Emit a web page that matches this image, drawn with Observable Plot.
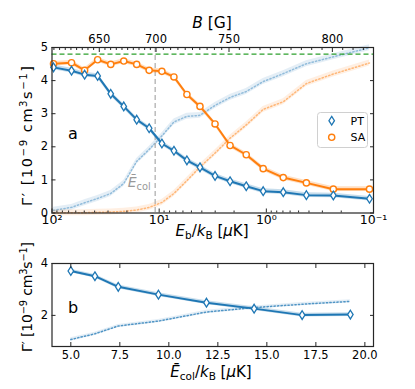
<!DOCTYPE html>
<html><head><meta charset="utf-8">
<script src="https://cdn.jsdelivr.net/npm/d3@7"></script>
<script src="https://cdn.jsdelivr.net/npm/@observablehq/plot@0.6"></script>
<style>
body{margin:0;background:#fff;}
#wrap{position:relative;width:415px;height:389px;font-family:"DejaVu Sans",sans-serif;}
#wrap svg{position:absolute;left:0;overflow:visible;}
</style></head><body><div id="wrap"></div>
<script>
// ---------- data: panel a ----------
const Eb = [96.8, 65.7, 49.6, 37.5, 28.3, 21.4, 16.2, 12.4, 9.43, 7.28, 5.51, 4.16, 3.01, 2.18, 1.54, 1.07, 0.695, 0.423, 0.237, 0.109];
const ptGamma = [4.40, 4.30, 4.18, 4.14, 3.60, 3.22, 2.82, 2.56, 2.10, 1.88, 1.59, 1.38, 1.12, 0.96, 0.81, 0.66, 0.63, 0.54, 0.53, 0.43];
const saGamma = [4.51, 4.54, 4.31, 4.63, 4.49, 4.59, 4.49, 4.31, 4.28, 4.11, 3.58, 3.22, 2.69, 2.04, 1.76, 1.34, 1.07, 0.91, 0.72, 0.72];
const ptUnitary = [0.08, 0.17, 0.31, 0.44, 0.59, 0.89, 1.56, 1.92, 2.33, 2.75, 2.92, 2.95, 3.25, 3.49, 3.67, 3.97, 4.21, 4.51, 4.72, 4.99];
const saUnitary = [0.00, 0.01, 0.01, 0.02, 0.03, 0.05, 0.09, 0.17, 0.32, 0.59, 0.98, 1.39, 1.81, 2.26, 2.66, 3.13, 3.36, 3.91, 4.20, 4.53];
const gammaLimit = 4.8;
const EcolMean = 10.9;
const xMajorA = [100, 10, 1, 0.1];
const yTicksA = [0, 1, 2, 3, 4, 5];
const Bticks = [650, 700, 750, 800];
const EbAtB = [36.2, 10.7, 2.23, 0.242];
// ---------- data: panel b ----------
const Ecol = [5.0, 6.23, 7.42, 9.47, 11.92, 14.35, 16.80, 19.26];
const ptGammaB = [3.71, 3.51, 3.10, 2.80, 2.49, 2.26, 2.01, 2.03];
const ptUnitaryB = [1.07, 1.29, 1.59, 1.78, 2.13, 2.30, 2.43, 2.54];
const xTicksB = [5, 7.5, 10, 12.5, 15, 17.5, 20];
const yTicksB = [2, 4];
const bandSolid = 0.07, bandDot = 0.09;

const BLUE = "#1f77b4", ORANGE = "#ff7f0e", GREEN = "#2ca02c", AX = "#262626";
const supMap = {"-":"⁻","0":"⁰","1":"¹","2":"²","3":"³","4":"⁴","5":"⁵","6":"⁶","7":"⁷","8":"⁸","9":"⁹"};
const logFmt = d => "10" + String(Math.round(Math.log10(d))).split("").map(c => supMap[c]).join("");

// B <-> Eb mapping from the top-axis ticks
const BtoLogE = d3.scaleLinear().domain(Bticks).range(EbAtB.map(Math.log10));
const BtoE = b => Math.pow(10, BtoLogE(b));
const bMinor = d3.range(600, 830, 5).filter(b => !Bticks.includes(b)).map(BtoE).filter(e => e <= 100 && e >= 0.1);
const bRows = Bticks.map((b, i) => ({B: b, E: EbAtB[i]}));
const xMinorA = [];
for (const dec of [10, 1, 0.1]) for (let k = 2; k <= 9; k++) xMinorA.push(k * dec);

const thinDiamond = {draw(ctx, size) {
  const r = Math.sqrt(size / Math.PI), h = r * 1.45, w = r * 0.92;
  ctx.moveTo(0, -h); ctx.lineTo(w, 0); ctx.lineTo(0, h); ctx.lineTo(-w, 0); ctx.closePath();
}};

const rowsA = Eb.map((e, i) => ({Eb: e, pt: ptGamma[i], sa: saGamma[i], ptU: ptUnitary[i], saU: saUnitary[i]}));
const rowsB = Ecol.map((e, i) => ({E: e, pt: ptGammaB[i], ptU: ptUnitaryB[i]}));

const style = {fontFamily: "DejaVu Sans", fontSize: "11.5px", background: "transparent", color: "#000", overflow: "visible"};

const tickMarks = (axis, vals, anchor, size) => axis(vals, {anchor, tickSize: -size, fill: "none", stroke: AX, strokeWidth: 1, label: null});

const plotA = Plot.plot({
  width: 415, height: 260,
  marginLeft: 51.5, marginRight: 42, marginTop: 47, marginBottom: 47.5,
  style,
  x: {type: "log", domain: [100, 0.1]},
  y: {domain: [0, 5]},
  marks: [
    Plot.areaY(rowsA, {x: "Eb", y1: d => d.ptU - bandDot, y2: d => d.ptU + bandDot, fill: BLUE, fillOpacity: 0.12}),
    Plot.lineY(rowsA, {x: "Eb", y: "ptU", stroke: BLUE, strokeOpacity: 0.42, strokeWidth: 1.5, strokeDasharray: "1.3,2.2"}),
    Plot.areaY(rowsA, {x: "Eb", y1: d => d.saU - bandDot, y2: d => d.saU + bandDot, fill: ORANGE, fillOpacity: 0.12}),
    Plot.lineY(rowsA, {x: "Eb", y: "saU", stroke: ORANGE, strokeOpacity: 0.5, strokeWidth: 1.5, strokeDasharray: "1.3,2.2"}),
    Plot.ruleY([gammaLimit], {stroke: GREEN, strokeWidth: 1.3, strokeDasharray: "5,3"}),
    Plot.ruleX([EcolMean], {stroke: "#aaaaaa", strokeWidth: 1.2, strokeDasharray: "5,3"}),
    Plot.areaY(rowsA, {x: "Eb", y1: d => d.sa - bandSolid, y2: d => d.sa + bandSolid, fill: ORANGE, fillOpacity: 0.25}),
    Plot.lineY(rowsA, {x: "Eb", y: "sa", stroke: ORANGE, strokeWidth: 2}),
    Plot.areaY(rowsA, {x: "Eb", y1: d => d.pt - bandSolid, y2: d => d.pt + bandSolid, fill: BLUE, fillOpacity: 0.25}),
    Plot.lineY(rowsA, {x: "Eb", y: "pt", stroke: BLUE, strokeWidth: 2}),
    Plot.dot(rowsA, {x: "Eb", y: "sa", r: 3.1, stroke: ORANGE, fill: "white", strokeWidth: 1.4}),
    Plot.dot(rowsA, {x: "Eb", y: "pt", r: 3, symbol: thinDiamond, stroke: BLUE, fill: "white", strokeWidth: 1.3}),
    // axes
    Plot.axisX(xMajorA, {anchor: "bottom", tickSize: 0, tickPadding: 2, stroke: "none", tickFormat: logFmt, fontSize: 12.5, label: null}),
    tickMarks(Plot.axisX, xMajorA, "bottom", 4),
    tickMarks(Plot.axisX, xMinorA, "bottom", 2),
    Plot.text(bRows, {x: "E", text: d => String(d.B), frameAnchor: "top", lineAnchor: "bottom", dy: -5}),
    tickMarks(Plot.axisX, EbAtB, "top", 4),
    tickMarks(Plot.axisX, bMinor, "top", 2),
    Plot.axisY(yTicksA, {anchor: "left", tickSize: 0, tickPadding: 4, stroke: "none", label: null}),
    tickMarks(Plot.axisY, yTicksA, "left", 4),
    tickMarks(Plot.axisY, yTicksA, "right", 4),
    Plot.frame({stroke: AX, strokeWidth: 1.2})
  ]
});
plotA.style.top = "0px";

const plotB = Plot.plot({
  width: 415, height: 139,
  marginLeft: 51.5, marginRight: 42, marginTop: 13, marginBottom: 43,
  style,
  x: {domain: [4.04, 20.44]},
  y: {domain: [0.8, 4]},
  marks: [
    Plot.areaY(rowsB, {x: "E", y1: d => d.ptU - bandDot * 0.7, y2: d => d.ptU + bandDot * 0.7, fill: BLUE, fillOpacity: 0.12}),
    Plot.lineY(rowsB, {x: "E", y: "ptU", stroke: BLUE, strokeOpacity: 0.75, strokeWidth: 1.5, strokeDasharray: "1.3,2.2"}),
    Plot.areaY(rowsB, {x: "E", y1: d => d.pt - bandSolid, y2: d => d.pt + bandSolid, fill: BLUE, fillOpacity: 0.25}),
    Plot.lineY(rowsB, {x: "E", y: "pt", stroke: BLUE, strokeWidth: 2}),
    Plot.dot(rowsB, {x: "E", y: "pt", r: 3, symbol: thinDiamond, stroke: BLUE, fill: "white", strokeWidth: 1.3}),
    Plot.axisX(xTicksB, {anchor: "bottom", tickSize: 0, tickPadding: 4, stroke: "none", tickFormat: d3.format(".1f"), label: null}),
    tickMarks(Plot.axisX, xTicksB, "bottom", 4),
    tickMarks(Plot.axisX, xTicksB, "top", 4),
    Plot.axisY(yTicksB, {anchor: "left", tickSize: 0, tickPadding: 4, stroke: "none", label: null}),
    tickMarks(Plot.axisY, yTicksB, "left", 4),
    tickMarks(Plot.axisY, yTicksB, "right", 4),
    Plot.frame({stroke: AX, strokeWidth: 1.2})
  ]
});
plotB.style.top = "250px";

const wrap = document.getElementById("wrap");
wrap.appendChild(plotA);
wrap.appendChild(plotB);

// ---------- overlay labels ----------
const xA = plotA.scale("x");
const ov = d3.select(wrap).append("svg").attr("width", 415).attr("height", 389)
  .style("top", "0px").style("pointer-events", "none")
  .attr("font-family", "DejaVu Sans");

// parts: {t, i: italic, lv: -1 sub / 0 base / 1 sup}
function label(x, y, parts, {size = 14, anchor = "middle", rotate = 0, fill = "#000", length = null} = {}) {
  const t = ov.append("text").attr("x", 0).attr("y", 0).attr("font-size", size).attr("fill", fill)
    .attr("text-anchor", anchor).attr("transform", `translate(${x},${y}) rotate(${rotate})`);
  let cur = 0;
  for (const p of parts) {
    const lv = p.lv || 0;
    const off = lv === -1 ? size * 0.22 : lv === 1 ? -size * 0.38 : 0;
    const s = t.append("tspan").text(p.t);
    if (p.i) s.attr("font-style", "italic");
    if (lv !== 0) s.attr("font-size", size * 0.7);
    if (off !== cur) { s.attr("dy", off - cur); cur = off; }
  }
  if (length) t.attr("textLength", length).attr("lengthAdjust", "spacing");
  return t;
}
const gammaLabel = [{t: "Γ′ [10"}, {t: "−9", lv: 1}, {t: " cm"}, {t: "3", lv: 1}, {t: "s"}, {t: "−1", lv: 1}, {t: "]"}];
label(212, 28, [{t: "B", i: true}, {t: " [G]"}], {size: 15.5});
label(212, 236, [{t: "E", i: true}, {t: "b", lv: -1}, {t: "/"}, {t: "k", i: true}, {t: "B", lv: -1}, {t: " ["}, {t: "μ", i: true}, {t: "K]"}], {size: 15});
label(211, 377, [{t: "Ē", i: true}, {t: "col", lv: -1}, {t: "/"}, {t: "k", i: true}, {t: "B", lv: -1}, {t: " ["}, {t: "μ", i: true}, {t: "K]"}], {size: 15});
label(32, 136, gammaLabel, {rotate: -90, size: 14.5, length: 140});
label(32, 297, gammaLabel, {rotate: -90, size: 14, length: 110});
label(68, 139, [{t: "a"}], {size: 16, anchor: "start"});
label(68, 313, [{t: "b"}], {size: 16, anchor: "start"});
label(xA.apply(EcolMean) - 4, 187, [{t: "Ē", i: true}, {t: "col", lv: -1}], {anchor: "end", fill: "#999999"});

// legend
const lg = ov.append("g");
lg.append("rect").attr("x", 317.5).attr("y", 112.5).attr("width", 50).attr("height", 35).attr("rx", 3)
  .attr("fill", "white").attr("fill-opacity", 0.85).attr("stroke", "#d0d0d0");
const dPath = d3.symbol(thinDiamond, 9 * Math.PI)();
lg.append("path").attr("d", dPath).attr("transform", "translate(331.7,120.7)").attr("fill", "white").attr("stroke", BLUE).attr("stroke-width", 1.3);
lg.append("circle").attr("cx", 331.7).attr("cy", 137.3).attr("r", 3.1).attr("fill", "white").attr("stroke", ORANGE).attr("stroke-width", 1.4);
lg.append("text").attr("x", 350.5).attr("y", 124.7).attr("font-size", 11).text("PT");
lg.append("text").attr("x", 350.5).attr("y", 141.3).attr("font-size", 11).text("SA");
</script></body></html>
